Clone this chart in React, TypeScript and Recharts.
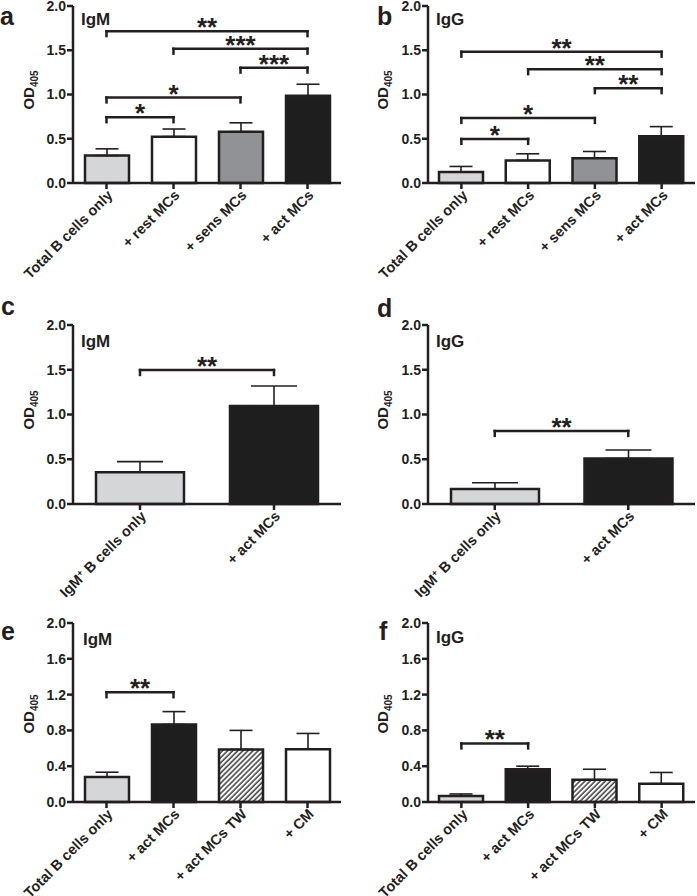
import React from 'react';
import { BarChart, Bar, XAxis, YAxis, ErrorBar, Cell, ReferenceLine } from 'recharts';

// ---------------- data ----------------
const catsTotal = ['Total B cells only', '+ rest MCs', '+ sens MCs', '+ act MCs'];
const igmTotal = [0.31, 0.524, 0.58, 0.985];
const igmTotalSem = [0.076, 0.086, 0.1, 0.131];
const iggTotal = [0.124, 0.255, 0.28, 0.528];
const iggTotalSem = [0.063, 0.075, 0.076, 0.109];

const catsIgMPos = ['IgM+ B cells only', '+ act MCs'];
const igmIgMPos = [0.354, 1.095];
const igmIgMPosSem = [0.119, 0.223];
const iggIgMPos = [0.168, 0.507];
const iggIgMPosSem = [0.07, 0.096];

const catsContact = ['Total B cells only', '+ act MCs', '+ act MCs TW', '+ CM'];
const igmContact = [0.28, 0.867, 0.587, 0.59];
const igmContactSem = [0.053, 0.143, 0.213, 0.176];
const iggContact = [0.067, 0.366, 0.25, 0.205];
const iggContactSem = [0.023, 0.034, 0.116, 0.125];

const ticksHalf = [0, 0.5, 1.0, 1.5, 2.0];
const ticksFifth = [0, 0.4, 0.8, 1.2, 1.6, 2.0];

// significance brackets: [fromIndex, toIndex, yValue, label]
type Sig = [number, number, number, string];
const sigA: Sig[] = [[0, 3, 1.715, '**'], [1, 3, 1.517, '***'], [2, 3, 1.303, '***'], [0, 2, 0.966, '*'], [0, 1, 0.742, '*']];
const sigB: Sig[] = [[0, 3, 1.483, '**'], [1, 3, 1.285, '**'], [2, 3, 1.071, '**'], [0, 2, 0.734, '*'], [0, 1, 0.498, '*']];
const sigC: Sig[] = [[0, 1, 1.497, '**']];
const sigD: Sig[] = [[0, 1, 0.816, '**']];
const sigE: Sig[] = [[0, 1, 1.226, '**']];
const sigF: Sig[] = [[0, 1, 0.654, '**']];

// ---------------- styles ----------------
const INK = '#231f20';
const FONT = '"Liberation Sans", Arial, Helvetica, sans-serif';
const LIGHT = '#d5d6d8';
const MID = '#909295';
const DARK = '#1e1e1e';
const WHITE = '#ffffff';
const HATCH = 'url(#hatch)';
const fillsTotal = [LIGHT, WHITE, MID, DARK];
const fillsIgMPos = [LIGHT, DARK];
const fillsContact = [LIGHT, DARK, HATCH, WHITE];
const TIP = 0.055;

const XTick = (props: any) => {
  const { x, y, payload } = props;
  const v: string = String(payload.value);
  const m = v.match(/^IgM\+(.*)$/);
  return (
    <text
      x={x}
      y={y}
      dy={10}
      textAnchor="end"
      transform={`rotate(-45, ${x}, ${y})`}
      fill={INK}
      fontSize={14.5}
      fontWeight={700}
      fontFamily={FONT}
    >
      {m ? (
        <>
          IgM
          <tspan dy={-5} fontSize={9}>+</tspan>
          <tspan dy={5}>{m[1]}</tspan>
        </>
      ) : (
        v
      )}
    </text>
  );
};

type PanelProps = {
  left: number;
  top: number;
  width: number;
  height: number;
  axisW: number;
  mTop: number;
  mRight: number;
  xH: number;
  cats: string[];
  vals: number[];
  sems: number[];
  ticks: number[];
  fills: string[];
  sig: Sig[];
  barSize: number;
  capW: number;
};

function Panel(p: PanelProps) {
  const data = p.cats.map((c, i) => ({ cat: c, v: p.vals[i], err: [0, p.sems[i]] }));
  const axisStyle = { stroke: INK, strokeWidth: 2.5 };
  const lines: React.ReactNode[] = [];
  p.sig.forEach(([a, b, y, lab], k) => {
    lines.push(
      <ReferenceLine
        key={`h${k}`}
        segment={[{ x: p.cats[a], y }, { x: p.cats[b], y }]}
        stroke={INK}
        strokeWidth={2.5}
        strokeLinecap="square"
        label={{ value: lab, position: 'top', offset: -5, fill: INK, fontSize: 26, fontWeight: 700, fontFamily: FONT }}
      />
    );
    lines.push(
      <ReferenceLine key={`l${k}`} segment={[{ x: p.cats[a], y }, { x: p.cats[a], y: y - TIP }]} stroke={INK} strokeWidth={2.5} strokeLinecap="square" />
    );
    lines.push(
      <ReferenceLine key={`r${k}`} segment={[{ x: p.cats[b], y }, { x: p.cats[b], y: y - TIP }]} stroke={INK} strokeWidth={2.5} strokeLinecap="square" />
    );
  });
  return (
    <div style={{ position: 'absolute', left: p.left, top: p.top }}>
      <BarChart
        width={p.width}
        height={p.height}
        data={data}
        margin={{ top: p.mTop, right: p.mRight, bottom: 0, left: 0 }}
        barCategoryGap={0}
      >
        <XAxis
          dataKey="cat"
          height={p.xH}
          interval={0}
          tickSize={6}
          tickMargin={0}
          tickLine={axisStyle}
          axisLine={axisStyle}
          tick={<XTick />}
        />
        <XAxis xAxisId="top" dataKey="cat" orientation="top" height={0} tick={false} tickLine={false} axisLine={axisStyle} />
        <YAxis
          domain={[0, 2]}
          ticks={p.ticks}
          interval={0}
          width={p.axisW}
          tickSize={6}
          tickMargin={1}
          tickFormatter={(v: number) => v.toFixed(1)}
          tick={{ fill: INK, fontSize: 14, fontWeight: 700, fontFamily: FONT }}
          tickLine={axisStyle}
          axisLine={axisStyle}
        />
        <YAxis yAxisId="r" orientation="right" domain={[0, 2]} width={0} tick={false} tickLine={false} axisLine={axisStyle} />
        <Bar dataKey="v" barSize={p.barSize} stroke={INK} strokeWidth={2.5} isAnimationActive={false}>
          {data.map((d, i) => (
            <Cell key={i} fill={p.fills[i]} />
          ))}
          <ErrorBar dataKey="err" direction="y" width={p.capW} stroke={INK} strokeWidth={1.6} isAnimationActive={false} />
        </Bar>
        {lines}
      </BarChart>
    </div>
  );
}

const textStyle = { fill: INK, fontFamily: FONT, fontWeight: 700 } as const;

function ODLabel({ x, y }: { x: number; y: number }) {
  return (
    <text transform={`translate(${x}, ${y}) rotate(-90)`} textAnchor="middle" fontSize={15} {...textStyle}>
      OD
      <tspan dy={4} fontSize={10}>405</tspan>
    </text>
  );
}

export default function App() {
  return (
    <div style={{ position: 'absolute', left: 0, top: 0, width: 697, height: 896, background: '#fff', overflow: 'hidden' }}>
      <Panel left={0} top={0} width={348} height={300} axisW={73} mTop={6} mRight={7} xH={117}
        cats={catsTotal} vals={igmTotal} sems={igmTotalSem} ticks={ticksHalf} fills={fillsTotal} sig={sigA} barSize={44} capW={11.5} />
      <Panel left={347} top={0} width={350} height={300} axisW={81} mTop={6} mRight={2} xH={117}
        cats={catsTotal} vals={iggTotal} sems={iggTotalSem} ticks={ticksHalf} fills={fillsTotal} sig={sigB} barSize={44} capW={11.5} />
      <Panel left={0} top={300} width={348} height={300} axisW={73} mTop={25} mRight={7} xH={96}
        cats={catsIgMPos} vals={igmIgMPos} sems={igmIgMPosSem} ticks={ticksHalf} fills={fillsIgMPos} sig={sigC} barSize={88} capW={23} />
      <Panel left={347} top={300} width={350} height={300} axisW={81} mTop={25} mRight={2} xH={96}
        cats={catsIgMPos} vals={iggIgMPos} sems={iggIgMPosSem} ticks={ticksHalf} fills={fillsIgMPos} sig={sigD} barSize={88} capW={23} />
      <Panel left={0} top={590} width={348} height={306} axisW={73} mTop={33} mRight={7} xH={94}
        cats={catsContact} vals={igmContact} sems={igmContactSem} ticks={ticksFifth} fills={fillsContact} sig={sigE} barSize={44} capW={11.5} />
      <Panel left={347} top={590} width={350} height={306} axisW={81} mTop={33} mRight={2} xH={94}
        cats={catsContact} vals={iggContact} sems={iggContactSem} ticks={ticksFifth} fills={fillsContact} sig={sigF} barSize={44} capW={11.5} />

      <svg width={697} height={896} style={{ position: 'absolute', left: 0, top: 0, pointerEvents: 'none' }}>
        <defs>
          <pattern id="hatch" patternUnits="userSpaceOnUse" width={3.6} height={3.6} patternTransform="rotate(45)">
            <rect width={3.6} height={3.6} fill="#fff" />
            <line x1={1} y1={0} x2={1} y2={3.6} stroke={INK} strokeWidth={1.3} />
          </pattern>
        </defs>
        <text x={0} y={25} fontSize={25} {...textStyle}>a</text>
        <text x={377} y={25} fontSize={25} {...textStyle}>b</text>
        <text x={1} y={315} fontSize={25} {...textStyle}>c</text>
        <text x={377} y={317} fontSize={25} {...textStyle}>d</text>
        <text x={1} y={640} fontSize={25} {...textStyle}>e</text>
        <text x={379} y={640} fontSize={25} {...textStyle}>f</text>

        <text x={81} y={25} fontSize={17} {...textStyle}>IgM</text>
        <text x={436} y={25} fontSize={17} {...textStyle}>IgG</text>
        <text x={81} y={347} fontSize={17} {...textStyle}>IgM</text>
        <text x={436} y={347} fontSize={17} {...textStyle}>IgG</text>
        <text x={83} y={645} fontSize={17} {...textStyle}>IgM</text>
        <text x={436} y={643} fontSize={17} {...textStyle}>IgG</text>

        <ODLabel x={34} y={90} />
        <ODLabel x={388} y={90} />
        <ODLabel x={34} y={410} />
        <ODLabel x={388} y={410} />
        <ODLabel x={34} y={714} />
        <ODLabel x={388} y={714} />
      </svg>
    </div>
  );
}
